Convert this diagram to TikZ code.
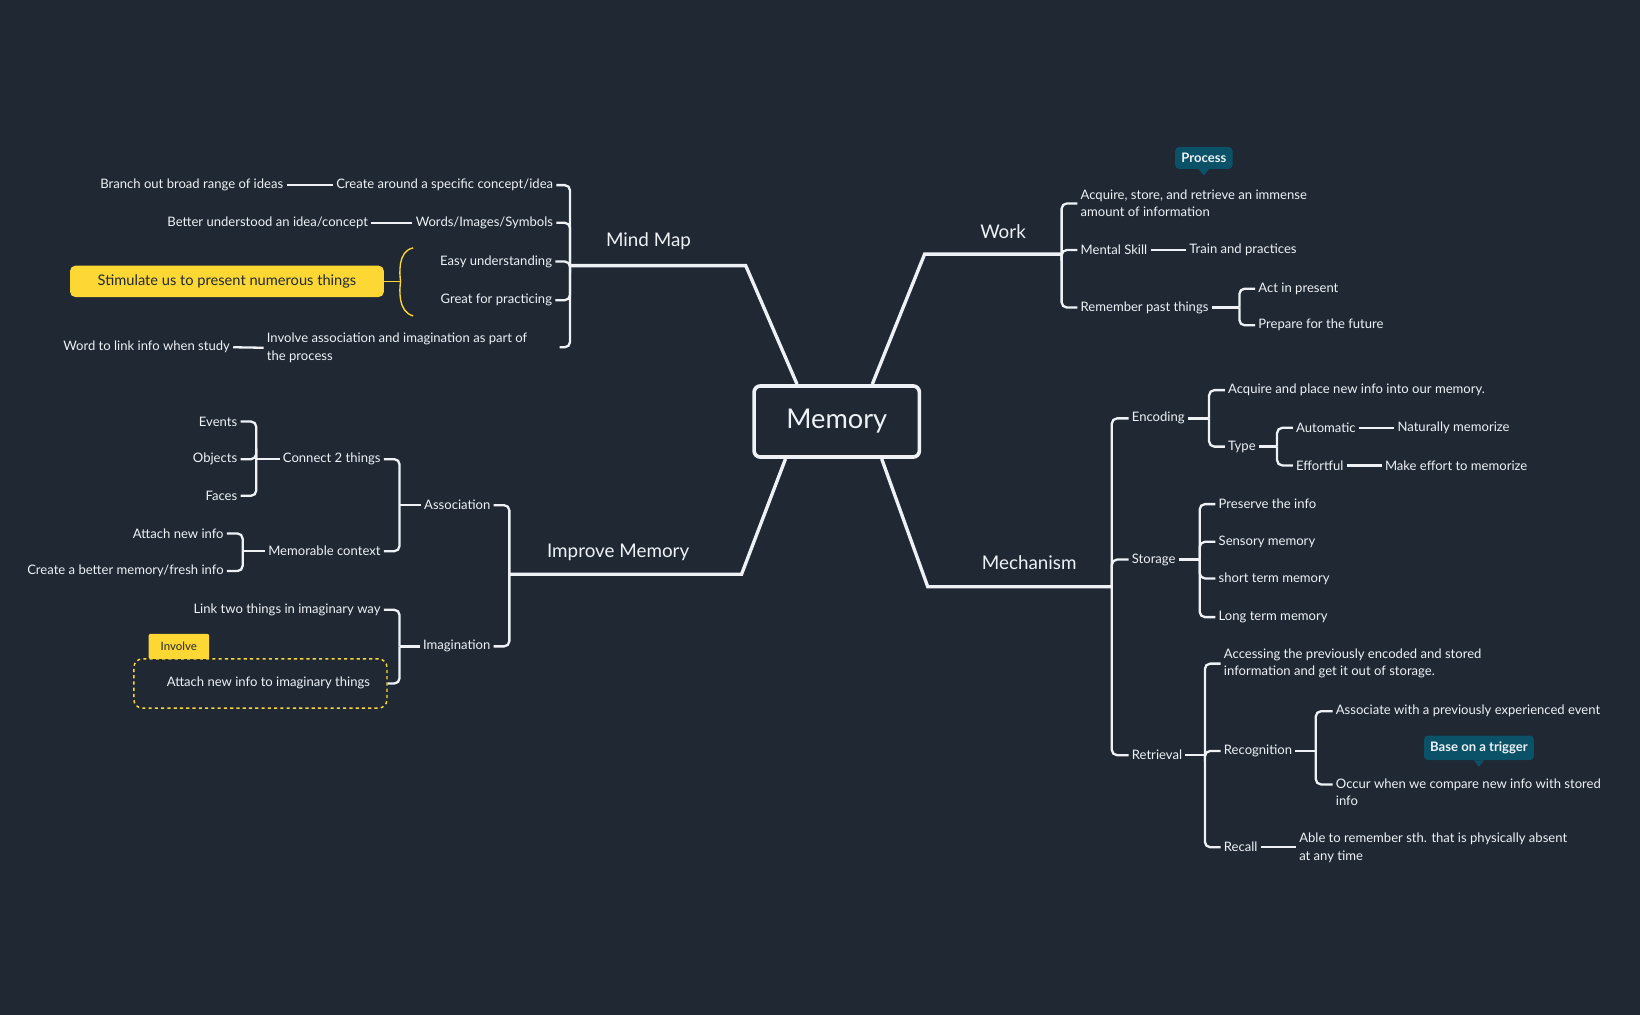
\documentclass[tikz,border=0pt]{standalone}
\usepackage{fontspec}
\setmainfont{Lato}
\definecolor{bg}{HTML}{1F2833}
\definecolor{fg}{HTML}{EEF2F7}
\definecolor{ylw}{HTML}{FDD835}
\definecolor{teal}{HTML}{0B5268}
\begin{document}
\begin{tikzpicture}[x=1pt,y=-1pt,
 t/.style={text=fg,font=\fontsize{12.5}{16.5}\selectfont,inner xsep=3pt,inner ysep=1pt,align=left},
 tl/.style={t,anchor=west},
 tr/.style={t,anchor=east},
 big/.style={text=fg,font=\fontsize{18}{22}\selectfont},
 ln/.style={draw=fg,line width=2.2pt,rounded corners=5pt},
 mainln/.style={draw=fg,line width=3.2pt},
 callout/.style={fill=teal,text=fg,rounded corners=4pt,font=\bfseries\fontsize{12.5}{15}\selectfont,inner xsep=6pt,inner ysep=6pt}]
\fill[bg] (0,0) rectangle (1568,970);
\useasboundingbox (0,0) rectangle (1568,970);
% center
\node[draw=fg,line width=3.5pt,rounded corners=6pt,minimum width=158pt,minimum height=68pt,text=fg,font=\fontsize{26}{30}\selectfont] (mem) at (800,403) {Memory};
% ---- Mind Map
\coordinate (mmj) at (545,254);
\coordinate (mmk) at (713,254);
\draw[mainln] ([xshift=-38pt]mem.north) -- (mmk) -- (mmj);
\node[big] (mm) at (620,231) {Mind Map};
\node[tr] (m1) at (532,177) {Create around a specific concept/idea};
\node[tr] (m2) at (532,213) {Words/Images/Symbols};
\node[tr] (m3) at (531,250) {Easy understanding};
\node[tr] (m4) at (531,287) {Great for practicing};
\node[tl] (m5) at (252,332.5) {Involve association and imagination as part of\\the process};
\foreach \c in {m1,m2,m3,m4} \draw[ln] (mmj) |- (\c.east);
\draw[ln] (mmj) |- (535,332) coordinate (m5j);
\node[tr] (m1a) at (274,177) {Branch out broad range of ideas};
\draw[ln] (m1a.east) -- (m1.west);
\node[tr] (m2a) at (355,213) {Better understood an idea/concept};
\draw[ln] (m2a.east) -- (m2.west);
\node[tr] (m5a) at (223,332) {Word to link info when study};
\draw[ln] (m5a.east) -- (m5.west);
\node[fill=ylw,rounded corners=5pt,minimum width=300pt,minimum height=30pt,font=\fontsize{14}{17}\selectfont,text=bg] (sum) at (217,269) {Stimulate us to present numerous things};
\coordinate (ya) at (395,237);
\coordinate (yb) at (395,302);
\draw[ylw,line width=1.3pt] (ya) .. controls (380,240) and (382,262) .. (383,269) .. controls (382,276) and (380,298) .. (yb);
\draw[ylw,line width=1.3pt] (383,269) -- (sum.east);
% ---- Work
\coordinate (wj) at (1015,243);
\draw[mainln] ([xshift=34pt]mem.north) -- (884,243) -- (wj);
\node[big] (work) at (959,221) {Work};
\node[tl] (w1) at (1030,194.5) {Acquire, store, and retrieve an immense\\amount of information};
\node[tl] (w2) at (1030,239) {Mental Skill};
\node[tl] (w3) at (1030,294) {Remember past things};
\foreach \c in {w1,w2,w3} \draw[ln] (wj) |- (\c.west);
\node[tl] (w2a) at (1134,239) {Train and practices};
\draw[ln] (w2.east) -- (w2a.west);
\coordinate (w3j) at (1185,294);
\node[tl] (w3a) at (1200,276) {Act in present};
\node[tl] (w3b) at (1200,311) {Prepare for the future};
\draw[ln] (w3.east) -- (w3j);
\foreach \c in {w3a,w3b} \draw[ln] (w3j) |- (\c.west);
\node[callout] (proc) at (1151,151) {Process};
\fill[teal] ([xshift=-5pt]proc.south) -- ([xshift=5pt]proc.south) -- ([yshift=-6pt]proc.south) -- cycle;
% ---- Improve Memory
\coordinate (ij) at (487,549);
\draw[mainln] ([xshift=-49pt]mem.south) -- (709,549) -- (ij);
\node[big] (imp) at (591,528) {Improve Memory};
\node[tr] (a) at (472,483) {Association};
\node[tr] (im) at (472,618) {Imagination};
\foreach \c in {a,im} \draw[ln] (ij) |- (\c.east);
\coordinate (aj) at (382,483);
\draw[ln] (a.west) -- (aj);
\node[tr] (c2) at (367,439) {Connect 2 things};
\node[tr] (mc) at (367,527) {Memorable context};
\foreach \c in {c2,mc} \draw[ln] (aj) |- (\c.east);
\coordinate (c2j) at (245,439);
\draw[ln] (c2.west) -- (c2j);
\node[tr] (e1) at (230,403) {Events};
\node[tr] (e2) at (230,439) {Objects};
\node[tr] (e3) at (230,474) {Faces};
\foreach \c in {e1,e2,e3} \draw[ln] (c2j) |- (\c.east);
\coordinate (mcj) at (232,527);
\draw[ln] (mc.west) -- (mcj);
\node[tr] (f1) at (217,510) {Attach new info};
\node[tr] (f2) at (217,546) {Create a better memory/fresh info};
\foreach \c in {f1,f2} \draw[ln] (mcj) |- (\c.east);
\coordinate (imj) at (382,618);
\draw[ln] (im.west) -- (imj);
\node[tr] (g1) at (367,583) {Link two things in imaginary way};
\node[tr] (g2) at (357,653) {Attach new info to imaginary things};
\node[draw=ylw,dashed,line width=1.4pt,rounded corners=8pt,minimum width=242pt,minimum height=47pt] (gbox) at (249,653.5) {};
\node[fill=ylw,text=bg,font=\fontsize{11}{13}\selectfont,minimum width=58pt,minimum height=24pt,inner sep=2pt,rounded corners=2pt] (inv) at (171,618) {Involve};
\draw[ln] (imj) |- (g1.east);
\draw[ln] (imj) |- (gbox.east);
% ---- Mechanism
\coordinate (mj) at (1063,561);
\draw[mainln] ([xshift=43pt]mem.south) -- (887,561) -- (mj);
\node[big] (mech) at (984,538) {Mechanism};
\node[tl] (enc) at (1079,400) {Encoding};
\node[tl] (sto) at (1079,535) {Storage};
\node[tl] (ret) at (1079,722) {Retrieval};
\draw[ln] (mj) -- (1063,522) |- (enc.west);
\draw[ln] (mj) -- (1063,600) |- (ret.west);
\draw[ln] (mj) |- (sto.west);
\coordinate (encj) at (1156,400);
\draw[ln] (enc.east) -- (encj);
\node[tl] (en1) at (1171,373) {Acquire and place new info into our memory.};
\node[tl] (typ) at (1171,427) {Type};
\foreach \c in {en1,typ} \draw[ln] (encj) |- (\c.west);
\coordinate (tj) at (1221,427);
\draw[ln] (typ.east) -- (tj);
\node[tl] (au) at (1236,409) {Automatic};
\node[tl] (ef) at (1236,445) {Effortful};
\foreach \c in {au,ef} \draw[ln] (tj) |- (\c.west);
\node[tl] (au2) at (1333,409) {Naturally memorize};
\node[tl] (ef2) at (1321,445) {Make effort to memorize};
\draw[ln] (au.east) -- (au2.west);
\draw[ln] (ef.east) -- (ef2.west);
\coordinate (stj) at (1147,535);
\draw[ln] (sto.east) -- (stj);
\node[tl] (s1) at (1162,482) {Preserve the info};
\node[tl] (s2) at (1162,518) {Sensory memory};
\node[tl] (s3) at (1162,553) {short term memory};
\node[tl] (s4) at (1162,590) {Long term memory};
\foreach \c in {s1,s2,s3,s4} \draw[ln] (stj) |- (\c.west);
\coordinate (rj) at (1152,722);
\draw[ln] (ret.east) -- (rj);
\node[tl] (r1) at (1167,634.5) {Accessing the previously encoded and stored\\information and get it out of storage.};
\node[tl] (rec) at (1167,718) {Recognition};
\node[tl] (rcl) at (1167,810) {Recall};
\draw[ln] (rj) |- (r1.west);
\draw[ln] (rj) |- (rec.west);
\draw[ln] (rj) |- (rcl.west);
\coordinate (recj) at (1258,718);
\draw[ln] (rec.east) -- (recj);
\node[tl] (q1) at (1274,680) {Associate with a previously experienced event};
\node[tl] (q2) at (1274,757.5) {Occur when we compare new info with stored\\info};
\draw[ln] (recj) |- (q1.west);
\draw[ln] (recj) |- (1274,750) coordinate (q2j);
\node[tl] (rc2) at (1239,810.5) {Able to remember sth. that is physically absent\\at any time};
\draw[ln] (rcl.east) -- (1239,810);
\node[callout] (trg) at (1414,715) {Base on a trigger};
\fill[teal] ([xshift=-5pt]trg.south) -- ([xshift=5pt]trg.south) -- ([yshift=-6pt]trg.south) -- cycle;
\end{tikzpicture}
\end{document}
